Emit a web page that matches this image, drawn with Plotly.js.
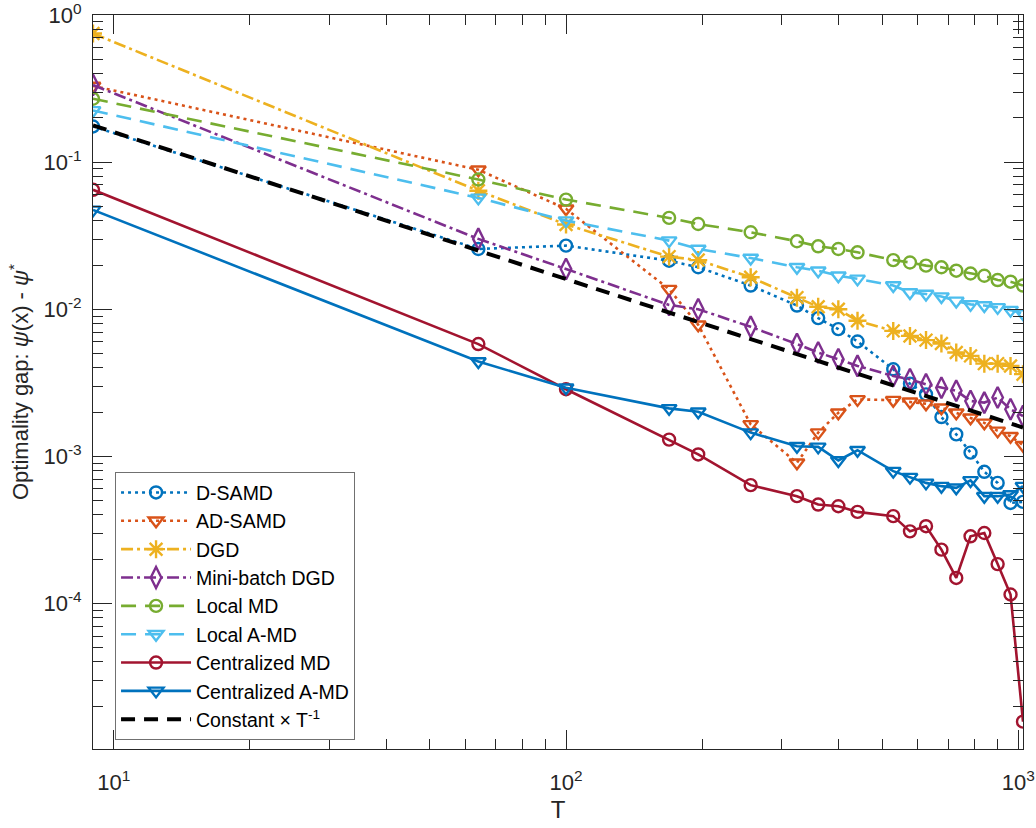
<!DOCTYPE html>
<html>
<head>
<meta charset="utf-8">
<script src="https://cdn.plot.ly/plotly-3.0.1.min.js"></script>
<style>
  html, body { margin: 0; padding: 0; background: #fff; }
  #chart { width: 1036px; height: 828px; }
</style>
</head>
<body>
<div id="chart"></div>
<script>
// Horizon lengths (number of iterations)
const T = [9, 64, 100, 169, 196, 256, 324, 361, 400, 441, 529, 576, 625, 676, 729, 784, 841, 900, 961, 1024];

// Optimality gap per method
const dSAMD       = [0.175, 0.0257, 0.0271, 0.0214, 0.0193, 0.0145, 0.0106, 0.00871, 0.00733, 0.00604, 0.00391, 0.00312, 0.00264, 0.00185, 0.00141, 0.00106, 0.000785, 0.00066, 0.000482, 0.00049];
const adSAMD      = [0.33, 0.0888, 0.0482, 0.0137, 0.00784, 0.00165, 0.000904, 0.00145, 0.00198, 0.00244, 0.00241, 0.00235, 0.00228, 0.00214, 0.00198, 0.00183, 0.00169, 0.00149, 0.00137, 0.00119];
const dgd         = [0.75, 0.064, 0.0377, 0.0228, 0.0216, 0.0165, 0.0120, 0.0104, 0.0100, 0.00835, 0.00713, 0.00659, 0.00617, 0.00585, 0.00508, 0.00482, 0.00427, 0.00427, 0.00412, 0.00362];
const miniBatchDGD= [0.335, 0.0301, 0.0188, 0.0107, 0.0100, 0.0076, 0.0058, 0.00508, 0.00457, 0.00412, 0.00352, 0.00334, 0.00309, 0.00293, 0.00279, 0.00238, 0.00232, 0.00251, 0.00209, 0.00188];
const localMD     = [0.270, 0.0763, 0.0557, 0.0418, 0.0380, 0.0334, 0.0290, 0.0268, 0.0257, 0.0244, 0.0216, 0.0208, 0.0198, 0.0193, 0.0183, 0.0175, 0.0169, 0.0158, 0.0154, 0.0145];
const localAMD    = [0.225, 0.0572, 0.0401, 0.0293, 0.0257, 0.0223, 0.0193, 0.0183, 0.0169, 0.0161, 0.0145, 0.0130, 0.0127, 0.0122, 0.0114, 0.0108, 0.0106, 0.0103, 0.00987, 0.00936];
const centralMD   = [0.0649, 0.0058, 0.00286, 0.00130, 0.00103, 0.000637, 0.000536, 0.00047, 0.000458, 0.000419, 0.000392, 0.000309, 0.000335, 0.000232, 0.000149, 0.000286, 0.000301, 0.000185, 0.000115, 0.0000157];
const centralAMD  = [0.0474, 0.00441, 0.00293, 0.00212, 0.00201, 0.00145, 0.00117, 0.00116, 0.000937, 0.0011, 0.000793, 0.000722, 0.00066, 0.000627, 0.000611, 0.000686, 0.000536, 0.000536, 0.00055, 0.000627];

// Reference rate line: Constant x T^-1 (end points)
const refT    = [9, 1024];
const refVals = [0.178, 0.00157];

// Axis labels
const xTickVals = [10, 100, 1000];
const xTickText = ['10<sup>1</sup>', '10<sup>2</sup>', '10<sup>3</sup>'];
const yTickVals = [1e-4, 1e-3, 1e-2, 1e-1, 1];
const yTickText = ['10<sup>-4</sup>', '10<sup>-3</sup>', '10<sup>-2</sup>', '10<sup>-1</sup>', '10<sup>0</sup>'];

// Minor tick positions (2..9 within every decade)
function minorTicks(fromExp, toExp) {
  const out = [];
  for (let e = fromExp; e <= toExp; e++) {
    for (let m = 2; m <= 9; m++) out.push(m * Math.pow(10, e));
  }
  return out;
}

const LW = 2.6;
function series(name, y, color, dash, symbol, size) {
  return {
    x: T, y: y, name: name, type: 'scatter', mode: 'lines+markers',
    line: { color: color, width: LW, dash: dash },
    marker: { symbol: symbol, size: size, color: color, line: { color: color, width: 2.4 } }
  };
}

const DOT = '3px,4px';
const DASH = '15px,9px';
const DASHDOT = '12px,4px,3px,4px';

const traces = [
  series('D-SAMD', dSAMD, '#0072BD', DOT, 'circle-open', 12),
  series('AD-SAMD', adSAMD, '#D95319', DOT, 'triangle-down-open', 13),
  series('DGD', dgd, '#EDB120', DASHDOT, 'asterisk-open', 15),
  series('Mini-batch DGD', miniBatchDGD, '#7E2F8E', DASHDOT, 'diamond-tall-open', 15),
  series('Local MD', localMD, '#77AC30', DASH, 'circle-open', 12),
  series('Local A-MD', localAMD, '#4DBEEE', DASH, 'triangle-down-open', 13),
  series('Centralized MD', centralMD, '#A2142F', 'solid', 'circle-open', 12),
  series('Centralized A-MD', centralAMD, '#0072BD', 'solid', 'triangle-down-open', 13),
  {
    x: refT, y: refVals, name: 'Constant \u00d7 T<sup>-1</sup>', type: 'scatter', mode: 'lines',
    line: { color: '#000000', width: 4, dash: '14px,9px' }
  }
];

const FONT = 'Liberation Sans, Arial, Helvetica, sans-serif';
const AXC = '#262626';

const layout = {
  width: 1036, height: 828,
  margin: { l: 93, r: 13, t: 15, b: 79 },
  paper_bgcolor: '#ffffff', plot_bgcolor: '#ffffff',
  font: { family: FONT, size: 22, color: AXC },
  showlegend: true,
  legend: {
    x: 0.0237, y: 0.377, xanchor: 'left', yanchor: 'top',
    bgcolor: '#ffffff', bordercolor: '#707070', borderwidth: 1,
    font: { family: FONT, size: 19.5, color: '#000' },
    itemwidth: 70
  },
  xaxis: {
    type: 'log', range: [Math.log10(9), Math.log10(1024)],
    tickmode: 'array', tickvals: xTickVals, ticktext: xTickText,
    ticks: 'inside', ticklen: 19, tickwidth: 1, tickcolor: AXC,
    minor: { tickmode: 'array', tickvals: minorTicks(0, 2), ticks: 'inside', ticklen: 10, tickwidth: 1, tickcolor: AXC, showgrid: false },
    showline: true, linecolor: AXC, linewidth: 1, mirror: 'allticks',
    showgrid: false, zeroline: false,
    tickfont: { family: FONT, size: 22, color: AXC },
    ticklabelstandoff: 14, ticklabeloverflow: 'allow',
    title: { text: 'T', font: { family: FONT, size: 24, color: AXC }, standoff: 6 }
  },
  yaxis: {
    type: 'log', range: [-4.99, 0.001],
    tickmode: 'array', tickvals: yTickVals, ticktext: yTickText,
    ticks: 'inside', ticklen: 19, tickwidth: 1, tickcolor: AXC,
    minor: { tickmode: 'array', tickvals: minorTicks(-5, -1), ticks: 'inside', ticklen: 10, tickwidth: 1, tickcolor: AXC, showgrid: false },
    showline: true, linecolor: AXC, linewidth: 1, mirror: 'allticks',
    showgrid: false, zeroline: false,
    tickfont: { family: FONT, size: 22, color: AXC },
    ticklabelstandoff: 6, ticklabeloverflow: 'allow',
    title: { text: 'Optimality gap: <i>\u03c8</i>(x) - <i>\u03c8</i><sup>*</sup>', font: { family: FONT, size: 22, color: AXC }, standoff: 8 }
  }
};

Plotly.newPlot('chart', traces, layout, { displayModeBar: false, staticPlot: true });
</script>
</body>
</html>
